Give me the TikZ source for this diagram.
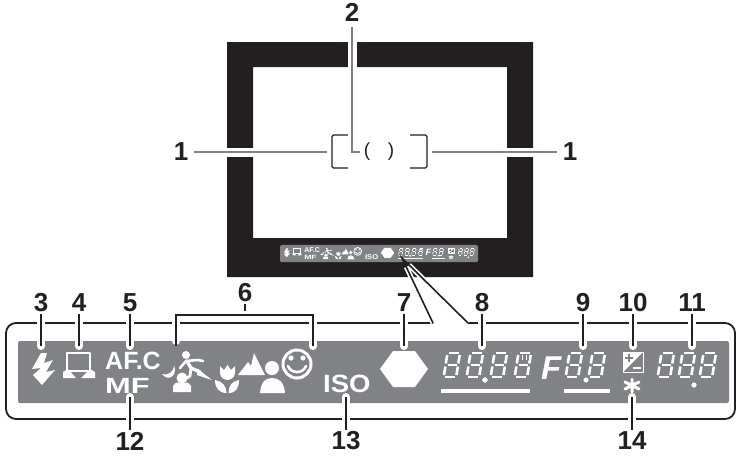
\documentclass[tikz,border=0pt]{standalone}
\usepackage{fontspec}
\setmainfont{Liberation Sans}
\definecolor{inkblack}{HTML}{231F20}
\definecolor{lcdgray}{HTML}{808285}
\def\iconscale{1}
\newcommand{\segdigit}{
    \draw[seg] (3,-25) -- (13,-25);
    \draw[seg] (14,-23) -- (14,-14.5);
    \draw[seg] (14,-11.5) -- (14,-3);
    \draw[seg] (3,-1) -- (13,-1);
    \draw[seg] (1.5,-11.5) -- (1.5,-3);
    \draw[seg] (1.5,-23) -- (1.5,-14.5);
    \draw[seg] (3.5,-13) -- (12.5,-13);
}
\begin{document}
\begin{tikzpicture}[
x=1pt, y=-1pt,
callout/.style={font=\bfseries\fontsize{26}{26}\selectfont, text=inkblack, inner sep=0pt, outer sep=2pt},
lcdtext/.style={font=\bfseries\fontsize{#1}{#1}\selectfont, text=white, inner sep=0pt, transform shape},
seg/.style={draw=white, line width=2.6*\iconscale pt},
icon/.style={draw=white, line width=#1*\iconscale pt, line cap=round, line join=round},
pointer/.style={draw=lcdgray, line width=2pt, shorten <=4pt, preaction={draw=white, line width=9pt}},
leader/.style={draw=inkblack, line width=1.8pt, preaction={draw=white, line width=8pt, line cap=round, shorten <=5pt}},
link/.style={draw=inkblack, line width=1.6pt, line join=miter},
panelicons/.pic={
    \fill[lcdgray, rounded corners=2pt] (18,341) rectangle (729,403);
    % flash
    \fill[white] (41,353) -- (32,369) -- (41,368) -- (33,375) -- (42,385) -- (55,370) -- (46,372) -- (53,360) -- (44,363) -- (47,353) -- cycle;
    % frame
    \draw[icon=1.2] (67,353) rectangle (90,371);
    \fill[white] (68,369) -- (76,378) -- (63,378) -- (63,372) -- cycle;
    \fill[white] (90,369) -- (81,378) -- (95,378) -- (95,372) -- cycle;
    % AF
    \node[lcdtext=25, anchor=base west] (afc) at (105,369) {AF.C};
    \node[lcdtext=22, anchor=base west] (mf) at (105,393) {\scalebox{1.4}[1]{MF}};
    % night portrait
    \fill[white] (174,365) .. controls (178,376) and (168,382) .. (162,374) .. controls (168,376) and (174,372) .. (174,365) -- cycle;
    \fill[white] (182,378) circle (5.5);
    \fill[white] (173,392) -- (173,386) -- (176,382.5) -- (188,382.5) -- (191,386) -- (191,392) -- cycle;
    % sport
    \fill[white] (186,355) circle (4);
    \draw[icon=2.6] (180,368) -- (186,361) -- (198,360) -- (203,361);
    \draw[icon=3.4] (187,361) -- (191,368) -- (200,372);
    \draw[icon=2.8] (191,368) -- (190,376) -- (187,378);
    \fill[white] (198,369) -- (212,380) -- (197,375) -- cycle;
    % flower
    \fill[white] (220,366) -- (224,370) -- (227.5,365) -- (231,370) -- (235,366) -- (235,373) .. controls (235,378) and (230,380) .. (227.5,380) .. controls (225,380) and (220,378) .. (220,373) -- cycle;
    \fill[white] (215,380) .. controls (222,381) and (226.5,386) .. (226.5,393) .. controls (219,393) and (215,388) .. (215,380) -- cycle;
    \fill[white] (239,380) .. controls (232,381) and (228.5,386) .. (228.5,393) .. controls (236,393) and (239,388) .. (239,380) -- cycle;
    % landscape
    \fill[white] (238,375) -- (248,362) -- (251,366) -- (254,353) -- (265,375) -- cycle;
    % portrait
    \fill[white] (272,368) circle (7);
    \fill[white] (260,393) .. controls (261,382) and (265,378) .. (272,378) .. controls (279,378) and (284,382) .. (285,393) -- cycle;
    % smile
    \draw[icon=3] (297,364) circle (14);
    \fill[white] (291,358) circle (2.6) (303,358) circle (2.6);
    \draw[icon=2.6] (288,366) .. controls (291,374) and (303,374) .. (306,366);
    % ISO
    \node[lcdtext=25, anchor=base west] (iso) at (323,392) {\scalebox{1.1}[1]{ISO}};
    % lens mark
    \fill[white] (380,369) -- (393,351) -- (415,351) -- (428,369) -- (415,387) -- (393,387) -- cycle;
    % shutter
    \foreach \sx in {442,465,489,513}
        \begin{scope}[shift={(\sx,378)}, xslant=.16]
            \segdigit
        \end{scope}
    \fill[white] (485,380) circle (2.4);
    \draw[draw=lcdgray, line width=1*\iconscale pt] (520,355) -- (520,360) (524,355) -- (524,360) (528,355) -- (528,360);
    \draw[draw=white, line width=1*\iconscale pt] (522,355) -- (522,360) (526,355) -- (526,360);
    \fill[white] (441,388.5) rectangle (530,393);
    % aperture
    \node[lcdtext=34, anchor=base west, font=\bfseries\itshape\fontsize{33}{33}\selectfont] (fnum) at (541,379) {F};
    \foreach \sx in {564,587}
        \begin{scope}[shift={(\sx,378)}, xslant=.16]
            \segdigit
        \end{scope}
    \fill[white] (586,380) circle (2.4);
    \fill[white] (564,388.5) rectangle (610,393);
    % exposure comp
    \draw[icon=1] (623,352) rectangle (643,372);
    \fill[white] (623,352) -- (643,352) -- (623,372) -- cycle;
    \draw[draw=lcdgray, line width=1.5*\iconscale pt] (625,358) -- (633,358) (629,354) -- (629,362);
    \draw[draw=white, line width=1.2*\iconscale pt] (633,368) -- (641,368);
    % AE lock
    \draw[icon=3] (632,379) -- (632,392) (625,382) -- (639,389) (639,382) -- (625,389);
    % frames
    \foreach \sx in {656,677,698}
        \begin{scope}[shift={(\sx,378)}, xslant=.16]
            \segdigit
        \end{scope}
    \fill[white] (694,385) circle (2.4);
}
]
\useasboundingbox (0,0) rectangle (736,456);

% viewfinder
\fill[inkblack, even odd rule] (227,42) rectangle (533,277) (253,67) rectangle (507,238);
\begin{scope}
\def\iconscale{.2785}
\pic (mini) [scale=.2785] at (275,150) {panelicons};
\end{scope}

% focus frame
\draw[inkblack, line width=1.2pt, rounded corners=1.5pt] (348,135) -- (332,135) -- (332,168) -- (348,168);
\draw[inkblack, line width=1.2pt, rounded corners=1.5pt] (410,135) -- (427,135) -- (427,168) -- (410,168);
\node[font=\fontsize{19}{19}\selectfont, text=inkblack, inner sep=0pt] (areaL) at (367,152) {(};
\node[font=\fontsize{19}{19}\selectfont, text=inkblack, inner sep=0pt] (areaR) at (391,152) {)};

% panel
\draw[inkblack, line width=1.8pt, rounded corners=10pt] (433,323) -- (6,323) -- (6,419) -- (735,419) -- (735,323) -- (468,323);
\pic (big) at (0,0) {panelicons};

% labels
\node[callout] (n1a) at (181,152) {1};
\node[callout] (n1b) at (570,152) {1};
\node[callout] (n2) at (352,12) {2};
\node[callout] (n3) at (41,303) {3};
\node[callout] (n4) at (79,303) {4};
\node[callout] (n5) at (130,303) {5};
\node[callout] (n6) at (245,293) {6};
\node[callout] (n7) at (404,303) {7};
\node[callout] (n8) at (482,303) {8};
\node[callout] (n9) at (583,303) {9};
\node[callout] (n10) at (633,303) {10};
\node[callout] (n11) at (692,303) {11};
\node[callout] (n12) at (130,441) {12};
\node[callout] (n13) at (346,441) {13};
\node[callout] (n14) at (632,441) {14};

\coordinate (t1a) at (327,152);
\coordinate (t1b) at (432,152);
\coordinate (t2) at (360,152);
\coordinate (t3) at (41,346);
\coordinate (t4) at (79,346);
\coordinate (t5) at (130,346);
\coordinate (t6a) at (176,346);
\coordinate (t6b) at (313,346);
\coordinate (t7) at (404,346);
\coordinate (t8) at (482,346);
\coordinate (t9) at (583,346);
\coordinate (t10) at (633,346);
\coordinate (t11) at (692,346);
\coordinate (t12) at (130,397);
\coordinate (t13) at (346,397);
\coordinate (t14) at (632,397);
\coordinate (bend2) at (352,152);
\coordinate (bar6) at (245,315);
\coordinate (tip78) at (402,258);
\coordinate (foot7) at (433,323);
\coordinate (foot8) at (468,323);

\draw[pointer] (n1a) -- (t1a);
\draw[pointer] (n1b) -- (t1b);
\draw[pointer] (n2) -- (bend2) -- (t2);
\foreach \a/\b in {n3/t3, n4/t4, n5/t5, n7/t7, n8/t8, n9/t9, n10/t10, n11/t11, n12/t12, n13/t13, n14/t14}
    \draw[leader] (\a) -- (\b);
\draw[leader] (n6) -- (bar6);
\draw[leader] (t6a) -- (t6a |- bar6) -- (t6b |- bar6) -- (t6b);
\draw[draw=white, line width=5pt, shorten >=10pt] (foot7) -- (tip78);
\draw[draw=white, line width=5pt, shorten <=10pt] (tip78) -- (foot8);
\draw[link] (foot7) -- (tip78) -- (foot8);
\end{tikzpicture}
\end{document}
